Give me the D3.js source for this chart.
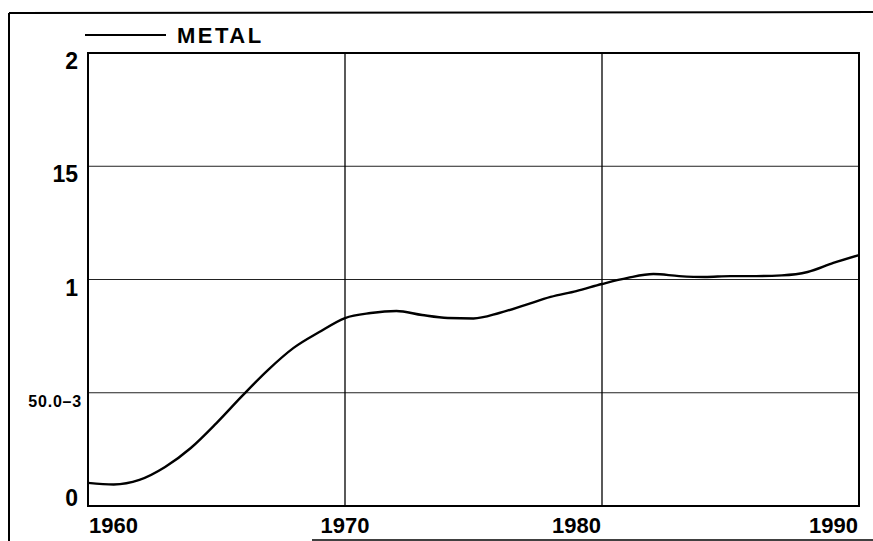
<!DOCTYPE html>
<html>
<head>
<meta charset="utf-8">
<script src="https://cdn.jsdelivr.net/npm/d3@7"></script>
<style>
  body { margin: 0; background: #fff; }
  text { font-family: "Liberation Sans", Arial, sans-serif; font-weight: bold; fill: #000; }
</style>
</head>
<body>
<div class="canvas"></div>
<script>
const years = d3.range(1960, 1991)
const metal = [
  0.102, 0.095, 0.115, 0.172, 0.256, 0.366, 0.486, 0.600, 0.698, 0.768,
  0.830, 0.852, 0.861, 0.843, 0.830, 0.828, 0.852, 0.887, 0.923, 0.949,
  0.980, 1.007, 1.024, 1.015, 1.011, 1.015, 1.015, 1.018, 1.033, 1.073,
  1.108
]
const yTicks = [0, 0.5, 1, 1.5, 2]
const yTickLabels = ['0', '50.0\u20133', '1', '15', '2']
const xTicks = [1960, 1970, 1980, 1990]
const seriesName = 'METAL'

const width = 873, height = 541
const margin = { top: 53, right: 14, bottom: 35, left: 88 }

const svg = d3.select('.canvas')
  .append('svg')
  .attr('width', width)
  .attr('height', height)

const x = d3.scaleLinear().domain([1960, 1990]).range([margin.left, width - margin.right])
const y = d3.scaleLinear().domain([0, 2]).range([height - margin.bottom, margin.top])

// outer frame (scanned page border)
svg.append('line').attr('x1', 9).attr('x2', 9).attr('y1', 13).attr('y2', height)
  .attr('stroke', '#000').attr('stroke-width', 2)
svg.append('line').attr('x1', 9).attr('x2', width).attr('y1', 13).attr('y2', 12)
  .attr('stroke', '#000').attr('stroke-width', 2)
svg.append('line').attr('x1', 312).attr('x2', width).attr('y1', 540).attr('y2', 540)
  .attr('stroke', '#000').attr('stroke-width', 1.5)

// grid
svg.append('g')
  .selectAll('line')
  .data(yTicks.slice(1, -1))
  .enter().append('line')
  .attr('x1', x(1960)).attr('x2', x(1990))
  .attr('y1', d => y(d)).attr('y2', d => y(d))
  .attr('stroke', '#222').attr('stroke-width', 1)

svg.append('g')
  .selectAll('line')
  .data(xTicks.slice(1, -1))
  .enter().append('line')
  .attr('x1', d => x(d)).attr('x2', d => x(d))
  .attr('y1', y(0)).attr('y2', y(2))
  .attr('stroke', '#000').attr('stroke-width', 1.3)

// plot border
svg.append('rect')
  .attr('x', x(1960)).attr('y', y(2))
  .attr('width', x(1990) - x(1960)).attr('height', y(0) - y(2))
  .attr('fill', 'none').attr('stroke', '#000').attr('stroke-width', 2)

// y labels
svg.append('g')
  .selectAll('text')
  .data(yTicks)
  .enter().append('text')
  .attr('x', (d, i) => yTickLabels[i].length > 3 ? 82 : 78)
  .attr('y', d => y(d) + (d === 0 ? -6 : 10))
  .attr('text-anchor', 'end')
  .attr('dominant-baseline', 'middle')
  .style('font-size', (d, i) => yTickLabels[i].length > 3 ? '16px' : '23px')
  .style('letter-spacing', (d, i) => yTickLabels[i].length > 3 ? '0.8px' : '0px')
  .text((d, i) => yTickLabels[i])

// x labels
svg.append('g')
  .selectAll('text')
  .data(xTicks)
  .enter().append('text')
  .attr('x', d => d === 1960 ? x(d) + 1 : d === 1970 ? x(d) : x(d) - 1)
  .attr('y', 533)
  .attr('text-anchor', d => d === 1960 ? 'start' : d === 1970 ? 'middle' : 'end')
  .style('font-size', '22px')
  .text(d => d)

// series
const line = d3.line()
  .x((d, i) => x(years[i]))
  .y(d => y(d))
  .curve(d3.curveMonotoneX)

svg.append('path')
  .datum(metal)
  .attr('fill', 'none')
  .attr('stroke', '#000')
  .attr('stroke-width', 2.4)
  .attr('d', line)

// legend
const legend = svg.append('g').attr('transform', 'translate(85, 35)')
legend.append('line').attr('x1', 0).attr('x2', 81).attr('y1', 0).attr('y2', 0)
  .attr('stroke', '#000').attr('stroke-width', 2)
legend.append('text')
  .attr('x', 92).attr('y', 8)
  .style('font-size', '22px')
  .style('letter-spacing', '2.5px')
  .text(seriesName)
</script>
</body>
</html>
